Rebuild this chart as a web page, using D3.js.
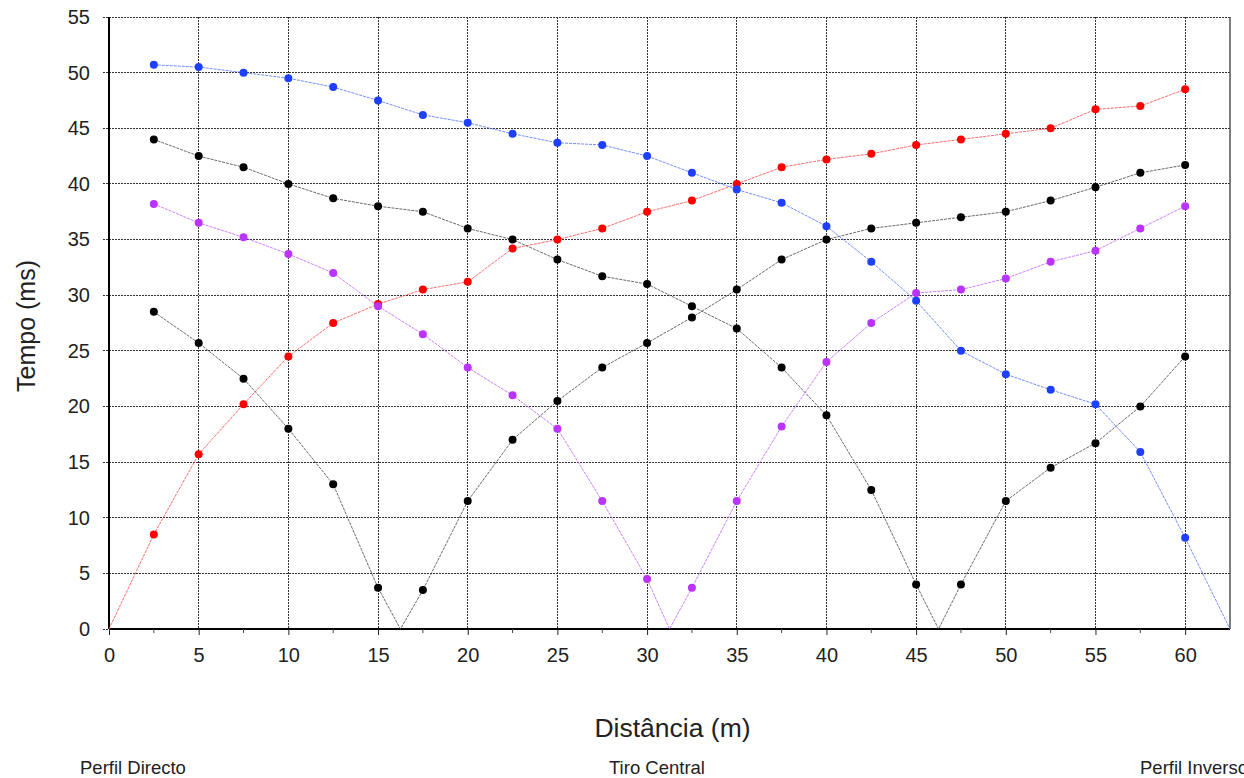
<!DOCTYPE html>
<html>
<head>
<meta charset="utf-8">
<script src="https://cdn.jsdelivr.net/npm/d3@7"></script>
<style>
  html, body { margin: 0; padding: 0; background: #fff; overflow: hidden; }
  svg { display: block; font-family: "Liberation Sans", Arial, sans-serif; }
</style>
</head>
<body>
<svg id="chart" width="1244" height="778"></svg>
<script>
// Geophone positions (m) along the seismic refraction line
const geophones = [2.5, 5, 7.5, 10, 12.5, 15, 17.5, 20, 22.5, 25, 27.5, 30,
                   32.5, 35, 37.5, 40, 42.5, 45, 47.5, 50, 52.5, 55, 57.5, 60];

// Shot positions (m)
const shotDirecto = 0;
const shotA = 16.25;
const shotCentral = 31.25;
const shotB = 46.25;
const shotInverso = 62.5;

// First-arrival times (ms) at each geophone, one array per shot
const tDirecto = [8.5, 15.7, 20.2, 24.5, 27.5, 29.2, 30.5, 31.2, 34.2, 35.0, 36.0, 37.5,
                  38.5, 40.0, 41.5, 42.2, 42.7, 43.5, 44.0, 44.5, 45.0, 46.7, 47.0, 48.5];
const tShotA = [28.5, 25.7, 22.5, 18.0, 13.0, 3.7, 3.5, 11.5, 17.0, 20.5, 23.5, 25.7,
                28.0, 30.5, 33.2, 35.0, 36.0, 36.5, 37.0, 37.5, 38.5, 39.7, 41.0, 41.7];
const tCentral = [38.2, 36.5, 35.2, 33.7, 32.0, 29.0, 26.5, 23.5, 21.0, 18.0, 11.5, 4.5,
                  3.7, 11.5, 18.2, 24.0, 27.5, 30.2, 30.5, 31.5, 33.0, 34.0, 36.0, 38.0];
const tShotB = [44.0, 42.5, 41.5, 40.0, 38.7, 38.0, 37.5, 36.0, 35.0, 33.2, 31.7, 31.0,
                29.0, 27.0, 23.5, 19.2, 12.5, 4.0, 4.0, 11.5, 14.5, 16.7, 20.0, 24.5];
const tInverso = [50.7, 50.5, 50.0, 49.5, 48.7, 47.5, 46.2, 45.5, 44.5, 43.7, 43.5, 42.5,
                  41.0, 39.5, 38.3, 36.2, 33.0, 29.5, 25.0, 22.9, 21.5, 20.2, 15.9, 8.2];

// Axis ticks and labels
const xTicks = [0, 5, 10, 15, 20, 25, 30, 35, 40, 45, 50, 55, 60];
const xMinorTicks = [2.5, 7.5, 12.5, 17.5, 22.5, 27.5, 32.5, 37.5, 42.5, 47.5, 52.5, 57.5];
const yTicks = [0, 5, 10, 15, 20, 25, 30, 35, 40, 45, 50, 55];
const xTitle = "Distância (m)";
const yTitle = "Tempo (ms)";
const footerLabels = ["Perfil Directo", "Tiro Central", "Perfil Inverso"];

const series = [
  { shot: shotDirecto, times: tDirecto, color: "#ff0000", line: "#ff5050" },
  { shot: shotA,       times: tShotA,   color: "#000000", line: "#505050" },
  { shot: shotCentral, times: tCentral, color: "#bb33ff", line: "#c766ff" },
  { shot: shotB,       times: tShotB,   color: "#000000", line: "#505050" },
  { shot: shotInverso, times: tInverso, color: "#1f3fff", line: "#5a78ff" }
];

const svg = d3.select("#chart");
const plotL = 109, plotR = 1230, plotT = 17, plotB = 629;

const x = d3.scaleLinear().domain([0, 62.5]).range([plotL, plotR]);
const y = d3.scaleLinear().domain([0, 55]).range([plotB, plotT]);

// Grid
const grid = svg.append("g");
grid.selectAll("line.h").data(yTicks).join("line")
  .attr("x1", plotL - 6).attr("x2", plotR)
  .attr("y1", d => y(d)).attr("y2", d => y(d))
  .attr("stroke", "#333").attr("stroke-width", 1)
  .attr("stroke-dasharray", "2,1").attr("shape-rendering", "crispEdges");
grid.selectAll("line.v").data(xTicks.filter(d => d > 0)).join("line")
  .attr("x1", d => x(d)).attr("x2", d => x(d))
  .attr("y1", plotT).attr("y2", plotB)
  .attr("stroke", "#333").attr("stroke-width", 1)
  .attr("stroke-dasharray", "2,1").attr("shape-rendering", "crispEdges");

// Right frame
svg.append("line")
  .attr("x1", plotR).attr("x2", plotR).attr("y1", plotT).attr("y2", plotB)
  .attr("stroke", "#555").attr("stroke-width", 1.5);

// Axes
const xAxis = svg.append("g").attr("transform", `translate(0,${plotB})`)
  .call(d3.axisBottom(x).tickValues(xTicks).tickSize(6).tickPadding(13).tickFormat(d3.format("d")));
xAxis.select(".domain").attr("stroke", "#000").attr("stroke-width", 2).attr("d", `M${plotL},0H${plotR}`);
xAxis.selectAll(".tick line").attr("stroke", "#222");
xAxis.selectAll("text").attr("font-size", 20).attr("fill", "#222");

svg.append("g").attr("transform", `translate(0,${plotB})`)
  .selectAll("line").data(xMinorTicks).join("line")
  .attr("x1", d => x(d)).attr("x2", d => x(d)).attr("y1", 0).attr("y2", 4)
  .attr("stroke", "#444");

const yAxis = svg.append("g").attr("transform", `translate(${plotL},0)`)
  .call(d3.axisLeft(y).tickValues(yTicks).tickSize(0).tickPadding(19));
yAxis.select(".domain").attr("stroke", "#000").attr("stroke-width", 2).attr("d", `M0,${plotT}V${plotB}`);
yAxis.selectAll("text").attr("font-size", 20).attr("fill", "#222");

// Travel-time curves
const lineGen = d3.line().x(d => x(d[0])).y(d => y(d[1]));
series.forEach(s => {
  const pts = geophones.map((g, i) => [g, s.times[i]]);
  const withShot = pts.concat([[s.shot, 0]]).sort((a, b) => a[0] - b[0]);
  svg.append("path").datum(withShot)
    .attr("d", lineGen).attr("fill", "none")
    .attr("stroke", s.line).attr("stroke-width", 1)
    .attr("stroke-dasharray", "3,1").attr("stroke-opacity", 0.85);
});
series.forEach(s => {
  svg.append("g").selectAll("circle").data(geophones.map((g, i) => [g, s.times[i]])).join("circle")
    .attr("cx", d => x(d[0])).attr("cy", d => y(d[1])).attr("r", 4)
    .attr("fill", s.color);
});

// Titles
svg.append("text").attr("x", (plotL + plotR) / 2 + 3).attr("y", 737)
  .attr("text-anchor", "middle").attr("font-size", 26.5).attr("fill", "#222").text(xTitle);
svg.append("text").attr("transform", `translate(35,${(plotT + plotB) / 2 + 3}) rotate(-90)`)
  .attr("text-anchor", "middle").attr("font-size", 25).attr("fill", "#222").text(yTitle);

// Shot labels beneath the profile
const footerX = [80, 609, 1140];
svg.selectAll("text.footer").data(footerLabels).join("text")
  .attr("class", "footer")
  .attr("x", (d, i) => footerX[i]).attr("y", 774)
  .attr("font-size", 18.5).attr("fill", "#222").text(d => d);
</script>
</body>
</html>
